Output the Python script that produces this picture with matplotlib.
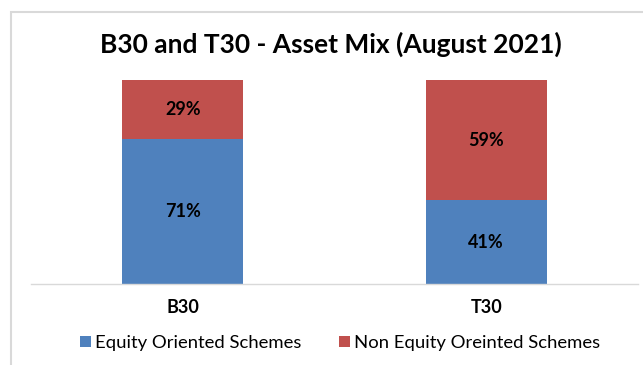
import matplotlib.pyplot as plt
from matplotlib.patches import Rectangle

plt.rcParams['font.family'] = ['Lato', 'DejaVu Sans']

groups = ["B30", "T30"]
equity = [71, 41]
non_equity = [29, 59]
series_names = ["Equity Oriented Schemes", "Non Equity Oreinted Schemes"]
colors = ["#4F81BD", "#C0504D"]

W, H = 643, 365
fig = plt.figure(figsize=(W / 100, H / 100), dpi=100)

# chart area border (runs off the right and bottom edges)
fig.patches.append(Rectangle((11 / W, -0.1), 1.2, (H - 12) / H + 0.1,
                             transform=fig.transFigure, fill=False,
                             edgecolor="#D9D9D9", linewidth=1.5))

ax = fig.add_axes([31 / W, (H - 284) / H, 607 / W, 204 / H])
x = range(len(groups))
ax.bar(x, equity, width=0.4, color=colors[0], label=series_names[0])
ax.bar(x, non_equity, width=0.4, bottom=equity, color=colors[1], label=series_names[1])

for i in x:
    ax.text(i, equity[i] / 2, f"{equity[i]}%", ha="center", va="center",
            fontsize=13, fontweight="bold", color="black")
    ax.text(i, equity[i] + non_equity[i] / 2, f"{non_equity[i]}%", ha="center",
            va="center", fontsize=13, fontweight="bold", color="black")

ax.set_xlim(-0.5, 1.5)
ax.set_ylim(0, 100)
ax.set_yticks([])
for side in ["top", "right", "left"]:
    ax.spines[side].set_visible(False)
ax.spines["bottom"].set_color("#D9D9D9")
ax.spines["bottom"].set_linewidth(1)
ax.set_xticks(list(x))
ax.set_xticklabels(groups, fontsize=13, fontweight="bold")
ax.tick_params(axis="x", length=0, pad=11)

fig.text(331 / W, 1 - 44 / H, "B30 and T30 - Asset Mix (August 2021)",
         ha="center", va="center", fontsize=19, fontweight="bold")

fig.legend(loc="center", bbox_to_anchor=(340 / W, 1 - 343 / H), ncol=2,
           frameon=False, fontsize=13.3, handlelength=0.6, handleheight=0.6,
           handletextpad=0.25, columnspacing=2.0)

fig.savefig("out.png", dpi=100)
